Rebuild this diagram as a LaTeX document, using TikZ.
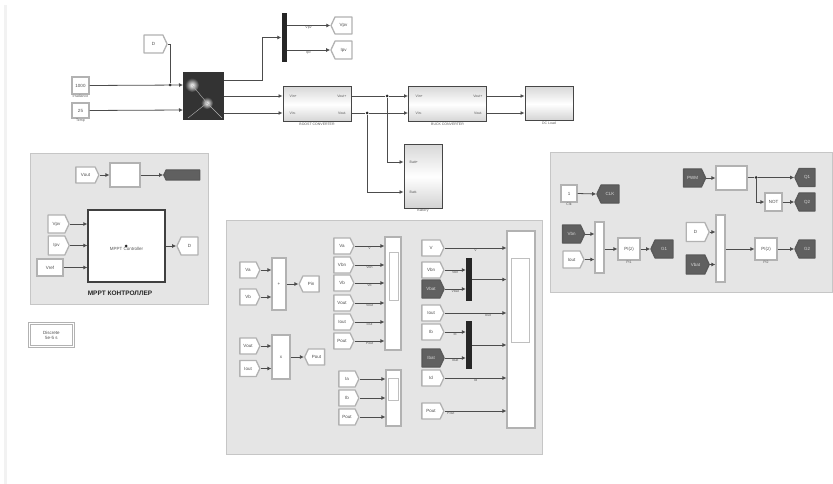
\documentclass[tikz,border=0pt]{standalone}
\usepackage{fontspec}
\setmainfont{Liberation Sans}
\usetikzlibrary{positioning, shapes, arrows.meta, calc}

\tikzset{
  smalltext/.style={font=\fontsize{3.5}{4}\selectfont, text=gray!70!black, inner sep=0.5pt},
  fromtag/.style={shape=signal, signal to=east, signal pointer angle=130, draw=gray!60, line width=1.3pt, line join=round, fill=white, minimum width=20pt, minimum height=16pt, inner sep=0pt, font=\fontsize{4.5}{5}\selectfont, text=gray!60!black},
  gototag/.style={fromtag, signal to=west},
  darkfrom/.style={fromtag, fill=gray!75!black, draw=gray!70!black, minimum width=22pt, minimum height=18pt, text=gray!30},
  darkgoto/.style={darkfrom, signal to=west},
  constbox/.style={rectangle, draw=gray!60, line width=1.2pt, fill=white, inner sep=0pt, font=\fontsize{4.5}{5}\selectfont, text=gray!60!black},
  blockbox/.style={constbox, line width=1.1pt},
  subsys/.style={rectangle, draw=gray!55!black, line width=1pt, top color=gray!30, bottom color=gray!35, middle color=white, inner sep=0pt},
  flatsys/.style={rectangle, draw=gray!60, line width=1.1pt, fill=white, inner sep=0pt, minimum width=22pt, minimum height=22pt, font=\fontsize{4.5}{5}\selectfont, text=gray!60!black},
  barbox/.style={rectangle, fill=black!85, inner sep=0pt, minimum width=5pt},
  panelbox/.style={rectangle, fill=gray!20, draw=gray!45, line width=1pt, inner sep=0pt},
  innerbox/.style={rectangle, fill=white, draw=gray!50, line width=.8pt, inner sep=0pt},
  junc/.style={circle, fill=gray!30!black, inner sep=0pt, minimum size=3pt},
  wire/.style={draw=gray!60!black, line width=.8pt, -{Latex[length=4pt,width=4pt]}},
  wireplain/.style={draw=gray!60!black, line width=.8pt}
}

\begin{document}
\begin{tikzpicture}[x=1pt, y=-1pt]
  \useasboundingbox (0,0) rectangle (833,484);
  \fill[gray!10] (4,5) rectangle (7,484);

  % panels
  \node[panelbox, minimum width=178pt, minimum height=150pt] (mpptpanel) at (119,229) {};
  \node[panelbox, minimum width=316pt, minimum height=234pt] (measpanel) at (384,337) {};
  \node[panelbox, minimum width=282pt, minimum height=139pt] (pwmpanel) at (691,222.5) {};

  % source and PV block
  \node[fromtag, minimum width=23pt, minimum height=18pt] (dtag) at (153.5,44) {D};
  \node[constbox, minimum width=17pt, minimum height=17pt, label={[smalltext]below:Irradiance}] (irr) at (80.5,85.5) {1000};
  \node[constbox, minimum width=17pt, minimum height=15pt, label={[smalltext]below:Temp}] (temp) at (80.5,110.5) {25};
  \node[rectangle, fill=black!80, minimum width=41pt, minimum height=48pt, inner sep=0pt] (pvarray) at (203.5,96) {};
  \shade[inner color=white, outer color=black!80] (192,85) circle (7);
  \shade[inner color=white, outer color=black!80] (207,103) circle (6);
  \draw[gray!60, line width=.4pt] (207,103) -- (222,118) (207,103) -- (188,118) (192,85) -- (207,103);

  \coordinate (pvin1) at (183,85);
  \coordinate (pvin2) at (183,110);
  \coordinate (pvout0) at (224,80);
  \coordinate (pvout1) at (224,96);
  \coordinate (pvout2) at (224,113);
  \node[junc] (djoin) at (170,85) {};
  \draw[wireplain] (dtag.east) -| (djoin);
  \draw[wire] (irr.east) -- (pvin1);
  \draw[wire] (temp.east) -- (pvin2);

  % measurement bus
  \node[barbox, minimum height=49pt] (pvbus) at (284,37.5) {};
  \node[gototag, minimum width=21pt, minimum height=17pt] (vpvtag) at (343.5,25.5) {Vpv};
  \node[gototag, minimum width=21pt, minimum height=18pt] (ipvtag) at (343.5,50) {Ipv};
  \draw[wire] (pvout0) -- (262,80) |- (pvbus.west);
  \draw[wire] (pvbus.east |- vpvtag) -- node[smalltext, below] (vpvlab) {Vpv} (vpvtag.west);
  \draw[wire] (pvbus.east |- ipvtag) -- node[smalltext, below] (ipvlab) {Ipv} (ipvtag.west);

  % power stage
  \node[subsys, minimum width=68pt, minimum height=35pt, label={[smalltext]below:BOOST CONVERTER}] (boost) at (317,104.5) {};
  \node[subsys, minimum width=78pt, minimum height=35pt, label={[smalltext]below:BUCK CONVERTER}] (buck) at (447.5,104.5) {};
  \node[subsys, minimum width=48pt, minimum height=34pt, label={[smalltext]below:DC Load}] (dcload) at (549,104) {};
  \node[subsys, minimum width=38pt, minimum height=63pt, label={[smalltext]below:Battery}] (batt) at (423,176.5) {};

  \node[smalltext, anchor=west] (boostl1) at (289,96) {Vin+};
  \node[smalltext, anchor=west] (boostl2) at (289,113) {Vin-};
  \node[smalltext, anchor=east] (boostr1) at (347,96) {Vout+};
  \node[smalltext, anchor=east] (boostr2) at (347,113) {Vout-};
  \node[smalltext, anchor=west] (buckl1) at (415,96) {Vin+};
  \node[smalltext, anchor=west] (buckl2) at (415,113) {Vin-};
  \node[smalltext, anchor=east] (buckr1) at (483,96) {Vout+};
  \node[smalltext, anchor=east] (buckr2) at (483,113) {Vout-};
  \node[smalltext, anchor=west] (battl1) at (409,162) {Batt+};
  \node[smalltext, anchor=west] (battl2) at (409,192) {Batt-};

  \node[junc] (jtop) at (387,96) {};
  \node[junc] (jbot) at (367,113) {};
  \draw[wire] (pvout1) -- (boost.west |- pvout1);
  \draw[wire] (pvout2) -- (boost.west |- pvout2);
  \draw[wireplain] (boost.east |- jtop) -- (jtop);
  \draw[wireplain] (boost.east |- jbot) -- (jbot);
  \draw[wire] (jtop) -- (buck.west |- jtop);
  \draw[wire] (jbot) -- (buck.west |- jbot);
  \draw[wire] (buck.east |- jtop) -- (dcload.west |- jtop);
  \draw[wire] (buck.east |- jbot) -- (dcload.west |- jbot);
  \draw[wire] (jtop) |- (batt.west |- battl1);
  \draw[wire] (jbot) |- (batt.west |- battl2);

  % MPPT panel
  \node[fromtag, minimum width=23pt] (clktag) at (85.5,175) {Vout};
  \node[blockbox, minimum width=30pt, minimum height=24pt] (filt) at (125,175) {};
  \node[darkgoto, minimum width=36pt, minimum height=10pt] (dutytag) at (183,175) {};
  \draw[wire] (clktag.east) -- (filt.west);
  \draw[wire] (filt.east) -- (dutytag.west);
  \node[rectangle, fill=white, draw=gray!50!black, line width=1.3pt, minimum width=77pt, minimum height=72pt, inner sep=0pt] (mppt) at (126.5,246) {};
  \node[smalltext, below=1pt of mppt.center, font=\fontsize{4.5}{5}\selectfont] (mpptname) {MPPT Controller};
  \node[junc] (mpptdot) at (126,246) {};
  \node[fromtag, minimum width=21pt, minimum height=18pt] (mpv) at (56.5,224) {Vpv};
  \node[fromtag, minimum width=21pt, minimum height=19pt] (mpi) at (56.5,245.5) {Ipv};
  \node[constbox, minimum width=26pt, minimum height=17pt] (mref) at (50,267.5) {Vref};
  \node[gototag, minimum width=21pt, minimum height=18pt] (mout) at (189.5,246) {D};
  \draw[wire] (mpv.east) -- (mppt.west |- mpv);
  \draw[wire] (mpi.east) -- (mppt.west |- mpi);
  \draw[wire] (mref.east) -- (mppt.west |- mref);
  \draw[wire] (mppt.east |- mout) -- (mout.west);
  \node[font=\bfseries\fontsize{6.5}{7}\selectfont, text=gray!30!black, inner sep=0pt] (mpptitle) at (120,293) {MPPT КОНТРОЛЛЕР};

  % solver box
  \node[rectangle, draw=gray!60, line width=.8pt, double=white, double distance=1.2pt, minimum width=44pt, minimum height=23pt, inner sep=0pt, align=center, font=\fontsize{4.5}{5}\selectfont, text=gray!60!black] (solver) at (51.5,335) {Discrete\\5e-5 s};

  % measurement panel, left
  \node[fromtag] (ma) at (248,270) {Va};
  \node[fromtag] (mb) at (248,297) {Vb};
  \node[blockbox, minimum width=14pt, minimum height=52pt] (sum1) at (279,284) {+};
  \node[gototag] (mc) at (311,284) {Pin};
  \draw[wire] (ma.east) -- (sum1.west |- ma);
  \draw[wire] (mb.east) -- (sum1.west |- mb);
  \draw[wire] (sum1.east |- mc) -- (mc.west);
  \node[fromtag] (md) at (248,346) {Vout};
  \node[fromtag] (me) at (248,368.5) {Iout};
  \node[blockbox, minimum width=18pt, minimum height=44pt] (sum2) at (281,357) {x};
  \node[gototag] (mf) at (316.5,357) {Pout};
  \draw[wire] (md.east) -- (sum2.west |- md);
  \draw[wire] (me.east) -- (sum2.west |- me);
  \draw[wire] (sum2.east) -- (mf.west);

  % scope 1
  \node[blockbox, minimum width=16pt, minimum height=113pt] (scopeone) at (393,293.5) {};
  \node[innerbox, minimum width=9pt, minimum height=48pt] (scopeonein) at (393.5,276) {};
  \node[fromtag] (s1a) at (342,246) {Va};
  \node[fromtag] (s1b) at (342,265) {Vbn};
  \node[fromtag] (s1c) at (342,283) {Vb};
  \node[fromtag] (s1d) at (342,303) {Vout};
  \node[fromtag] (s1e) at (342,322) {Iout};
  \node[fromtag] (s1f) at (342,341) {Pout};
  \draw[wire] (s1a.east) -- node[smalltext, below] (s1al) {V} (scopeone.west |- s1a);
  \draw[wire] (s1b.east) -- node[smalltext, below] (s1bl) {Vbn} (scopeone.west |- s1b);
  \draw[wire] (s1c.east) -- node[smalltext, below] (s1cl) {Vb} (scopeone.west |- s1c);
  \draw[wire] (s1d.east) -- node[smalltext, below] (s1dl) {Vout} (scopeone.west |- s1d);
  \draw[wire] (s1e.east) -- node[smalltext, below] (s1el) {Iout} (scopeone.west |- s1e);
  \draw[wire] (s1f.east) -- node[smalltext, below] (s1fl) {Pout} (scopeone.west |- s1f);

  % scope 2
  \node[blockbox, minimum width=15pt, minimum height=56pt] (scopetwo) at (393.5,398) {};
  \node[innerbox, minimum width=10pt, minimum height=22pt] (scopetwoin) at (393.5,389) {};
  \node[fromtag] (s2a) at (347,379) {Ia};
  \node[fromtag] (s2b) at (347,398) {Ib};
  \node[fromtag] (s2c) at (347,417) {Pout};
  \draw[wire] (s2a.east) -- (scopetwo.west |- s2a);
  \draw[wire] (s2b.east) -- (scopetwo.west |- s2b);
  \draw[wire] (s2c.east) -- (scopetwo.west |- s2c);

  % scope 3
  \node[blockbox, minimum width=28pt, minimum height=197pt] (scopethree) at (521,329.5) {};
  \node[innerbox, minimum width=18pt, minimum height=84pt] (scopethreein) at (520,300) {};
  \node[fromtag, minimum width=22pt] (s3a) at (431,248) {V};
  \node[fromtag, minimum width=22pt] (s3b) at (431,270) {Vbn};
  \node[darkfrom] (s3c) at (431,289) {Vbat};
  \node[fromtag, minimum width=22pt] (s3d) at (431,313) {Iout};
  \node[fromtag, minimum width=22pt] (s3e) at (431,332) {Ib};
  \node[darkfrom] (s3f) at (431,358) {Ibat};
  \node[fromtag, minimum width=22pt] (s3g) at (431,378) {Id};
  \node[fromtag, minimum width=22pt] (s3h) at (431,411) {Pout};
  \node[barbox, minimum width=6pt, minimum height=43pt] (bar1) at (469,279.5) {};
  \node[barbox, minimum width=6pt, minimum height=48pt] (bar2) at (469,345) {};
  \draw[wire] (s3a.east) -- node[smalltext, below] (s3al) {V} (scopethree.west |- s3a);
  \draw[wire] (s3b.east) -- node[smalltext, below] (s3bl) {Vbn} (bar1.west |- s3b);
  \draw[wire] (s3c.east) -- node[smalltext, below] (s3cl) {Vbat} (bar1.west |- s3c);
  \draw[wire] (bar1.east) -- (scopethree.west |- bar1);
  \draw[wire] (s3d.east) -- node[smalltext, below, pos=.7] (s3dl) {Iout} (scopethree.west |- s3d);
  \draw[wire] (s3e.east) -- node[smalltext, below] (s3el) {Ib} (bar2.west |- s3e);
  \draw[wire] (s3f.east) -- node[smalltext, below] (s3fl) {Ibat} (bar2.west |- s3f);
  \draw[wire] (bar2.east) -- (scopethree.west |- bar2);
  \draw[wire] (s3g.east) -- node[smalltext, below] (s3gl) {Id} (scopethree.west |- s3g);
  \draw[wire] (s3h.east) -- node[smalltext, below, pos=.1] (s3hl) {Pout} (scopethree.west |- s3h);

  % PWM panel
  \node[constbox, minimum width=16pt, minimum height=17pt, label={[smalltext]below:Clk}] (clkbox) at (569,193.5) {1};
  \node[darkgoto] (clkgo) at (610,194) {CLK};
  \draw[wire] (clkbox.east) -- (clkgo.west);

  \node[darkfrom] (p1a) at (571.5,234) {Vbn};
  \node[fromtag, minimum width=21pt, minimum height=17pt] (p1b) at (571.5,259.5) {Iout};
  \node[blockbox, minimum width=9pt, minimum height=51pt] (mux1) at (599.5,247.5) {};
  \node[flatsys, label={[smalltext]below:PI1}] (pid1) at (629,249) {PI(z)};
  \node[darkgoto] (p1out) at (664,249) {G1};
  \draw[wire] (p1a.east) -- (mux1.west |- p1a);
  \draw[wire] (p1b.east) -- (mux1.west |- p1b);
  \draw[wire] (mux1.east |- pid1) -- (pid1.west);
  \draw[wire] (pid1.east) -- (p1out.west);

  \node[fromtag, minimum width=23pt, minimum height=19pt] (p2a) at (695.5,232) {D};
  \node[darkfrom, minimum width=23pt, minimum height=19pt] (p2b) at (695.5,264.5) {Vbat};
  \node[blockbox, minimum width=9pt, minimum height=67pt] (mux2) at (720.5,248.5) {};
  \node[flatsys, label={[smalltext]below:PI2}] (pid2) at (766,249) {PI(z)};
  \node[darkgoto, minimum width=20pt] (p2out) at (807,249) {G2};
  \draw[wire] (p2a.east) -- (mux2.west |- p2a);
  \draw[wire] (p2b.east) -- (mux2.west |- p2b);
  \draw[wire] (mux2.east |- pid2) -- (pid2.west);
  \draw[wire] (pid2.east) -- (p2out.west);

  \node[darkfrom] (p3a) at (692.5,178) {PWM};
  \node[blockbox, minimum width=31pt, minimum height=24pt] (p3box) at (731.5,178) {};
  \node[darkgoto, minimum width=20pt] (p3g1) at (807,177.5) {Q1};
  \node[blockbox, minimum width=17pt, minimum height=18pt] (notbox) at (773.5,202) {NOT};
  \node[darkgoto, minimum width=20pt] (p3g2) at (807,202) {Q2};
  \node[junc] (pjoin) at (756,177.5) {};
  \draw[wire] (p3a.east) -- (p3box.west);
  \draw[wireplain] (p3box.east |- pjoin) -- (pjoin);
  \draw[wire] (pjoin) -- (p3g1.west);
  \draw[wire] (pjoin) |- (notbox.west);
  \draw[wire] (notbox.east) -- (p3g2.west);
\end{tikzpicture}
\end{document}
